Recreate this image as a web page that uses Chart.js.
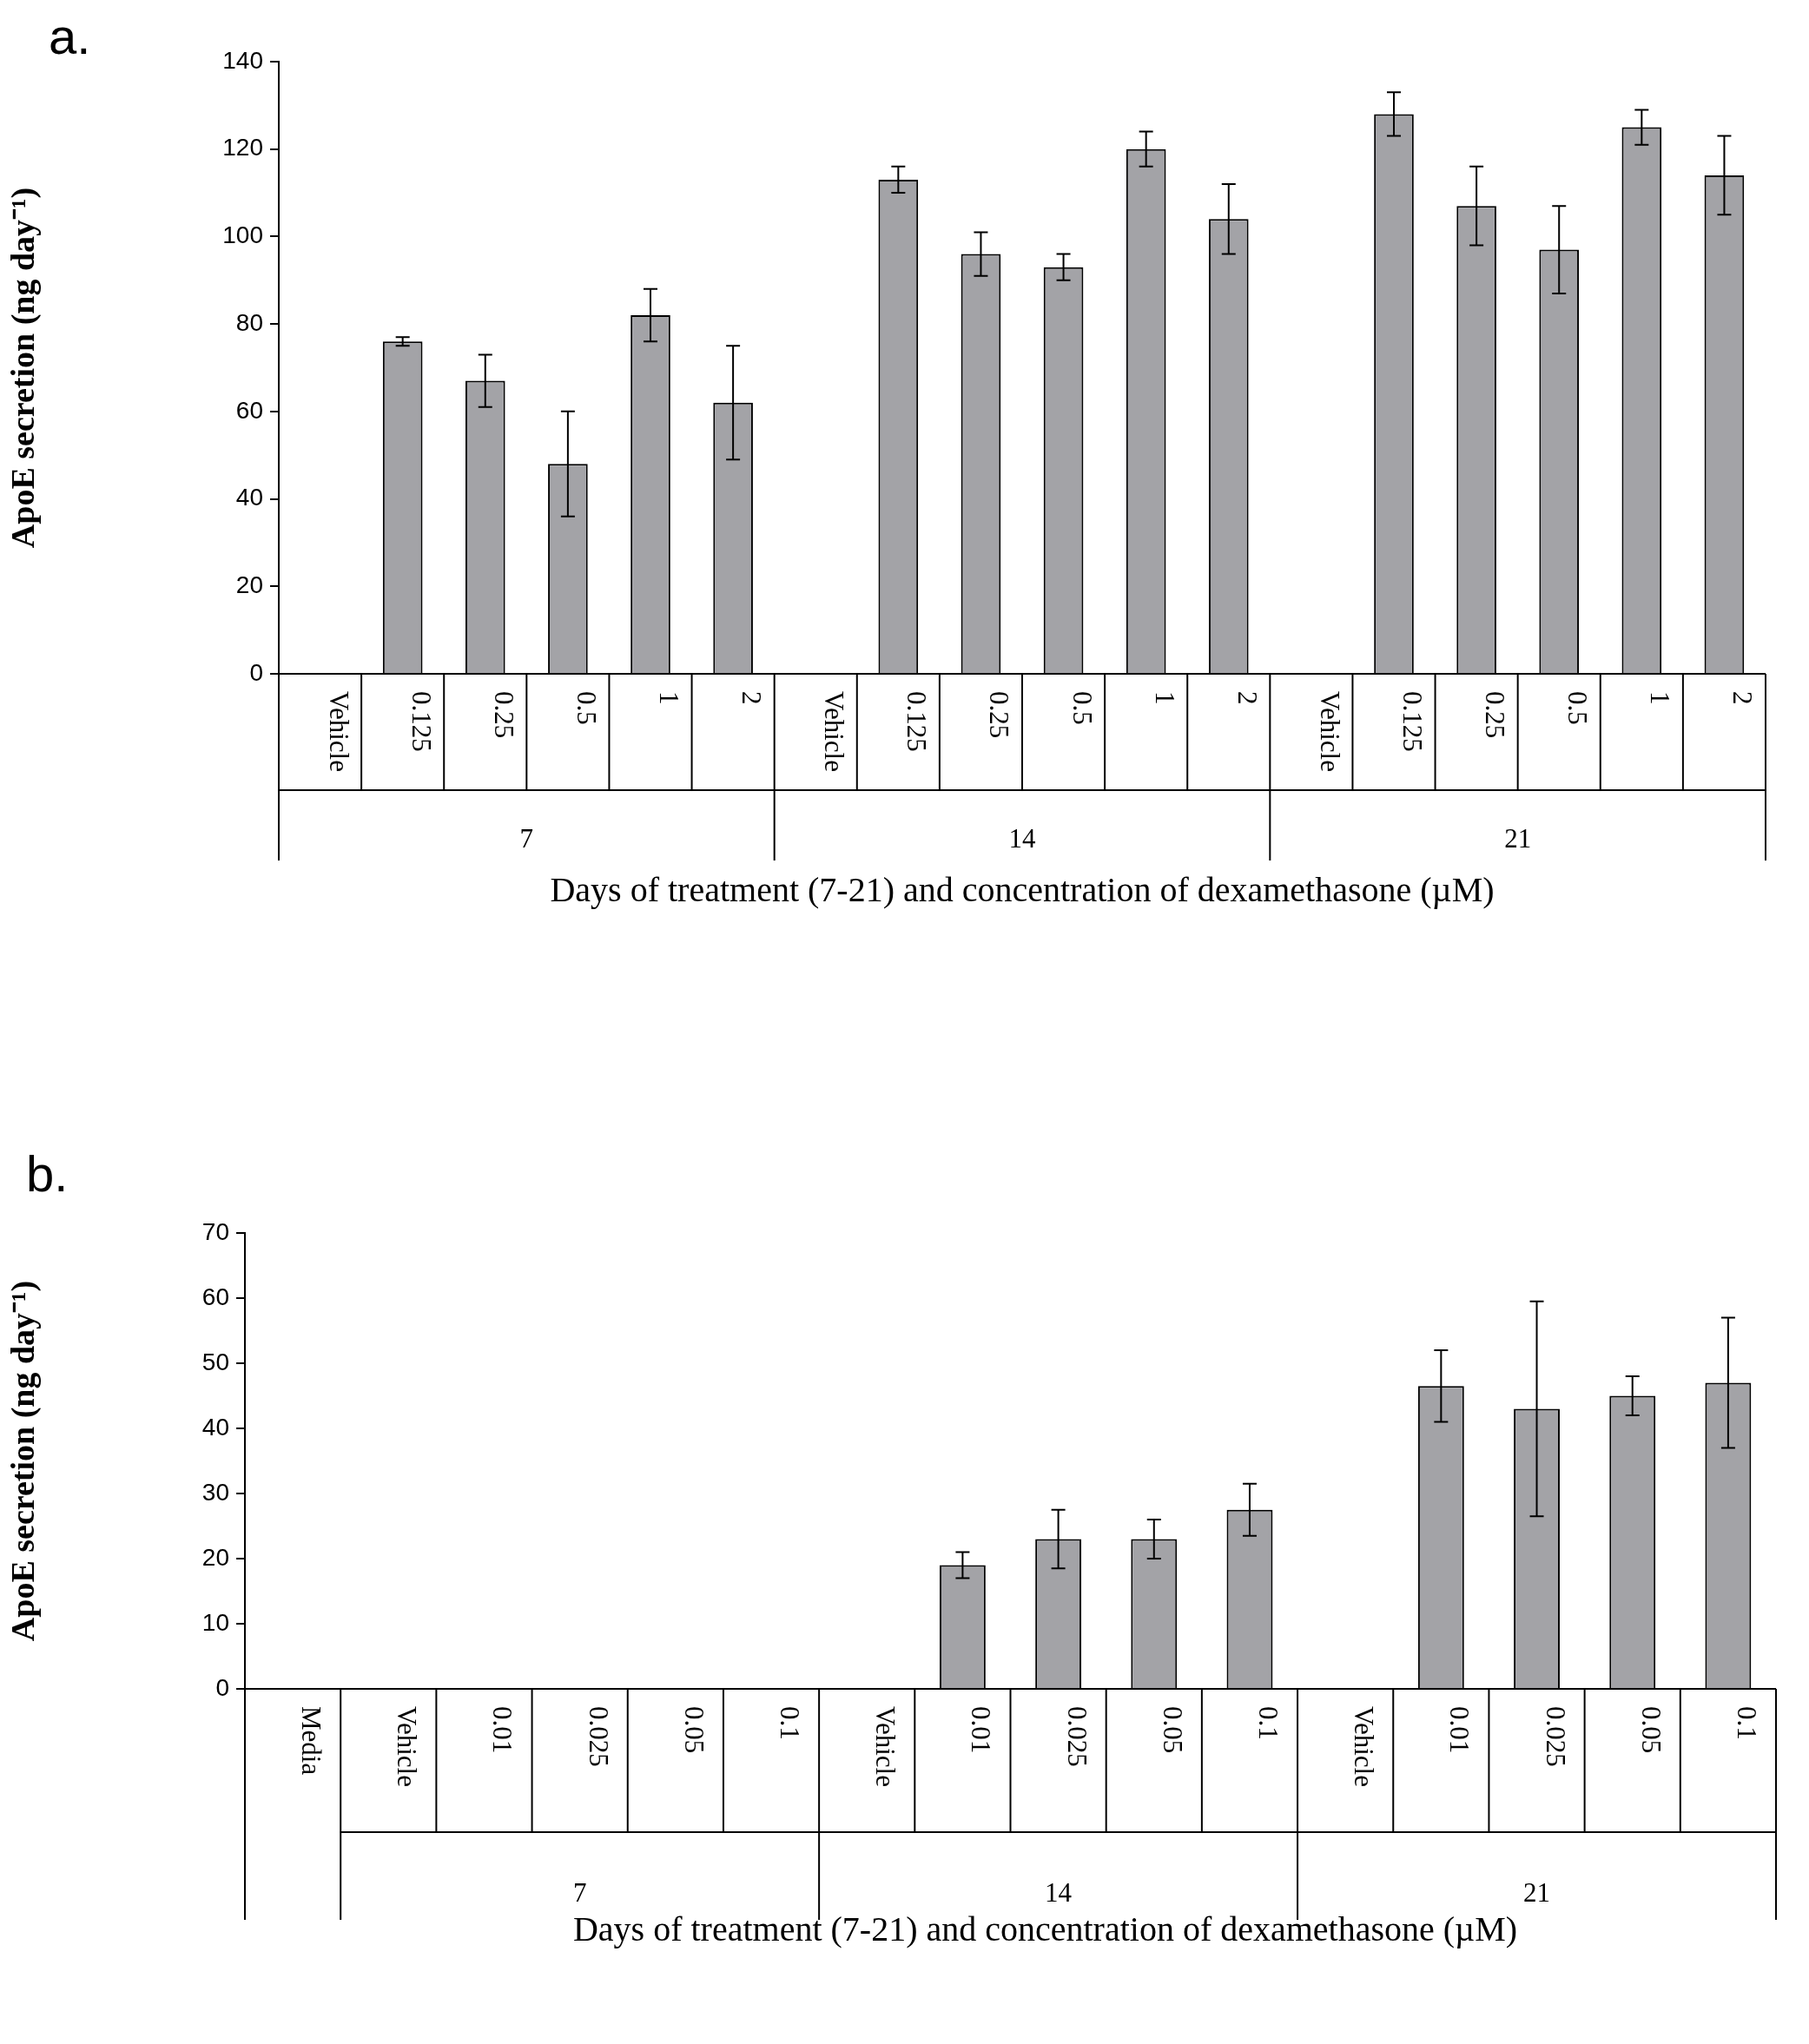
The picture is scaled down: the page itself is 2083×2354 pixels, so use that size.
<!DOCTYPE html>
<html><head><meta charset="utf-8">
<script src="https://cdn.jsdelivr.net/npm/chart.js@4.4.1/dist/chart.umd.min.js"></script>
<style>body{margin:0;background:#fff;width:2083px;height:2354px;position:relative;overflow:hidden}
canvas{position:absolute;left:0}
.lab{position:absolute;font-family:"Liberation Sans",Arial;font-size:58px}</style>
</head><body>
<div class="lab" style="left:56px;top:8px">a.</div>
<div class="lab" style="left:30px;top:1318px">b.</div>
<canvas id="chartA" width="2083" height="1100" style="top:0"></canvas>
<canvas id="chartB" width="2083" height="1054" style="top:1300px"></canvas>
<script>
// panel a
const groupsA = ["7", "14", "21"];
const concA = ["Vehicle", "0.125", "0.25", "0.5", "1", "2"];
const valuesA = [0, 76, 67, 48, 82, 62, 0, 113, 96, 93, 120, 104, 0, 128, 107, 97, 125, 114];
const errorsA = [0, 1, 6, 12, 6, 13, 0, 3, 5, 3, 4, 8, 0, 5, 9, 10, 4, 9];
const ticksA = [0, 20, 40, 60, 80, 100, 120, 140];

// panel b
const groupsB = ["7", "14", "21"];
const concB = ["Vehicle", "0.01", "0.025", "0.05", "0.1"];
const valuesB = [0, 0, 0, 0, 0, 0, 0, 19, 23, 23, 27.5, 0, 46.5, 43, 45, 47];
const errorsB = [0, 0, 0, 0, 0, 0, 0, 2, 4.5, 3, 4, 0, 5.5, 16.5, 3, 10];
const ticksB = [0, 10, 20, 30, 40, 50, 60, 70];

const labelsA = [];
groupsA.forEach(() => concA.forEach(c => labelsA.push(c)));
const labelsB = ["Media"];
groupsB.forEach(() => concB.forEach(c => labelsB.push(c)));

const serif = '"Liberation Serif", "Times New Roman", serif';

function tablePlugin(opt) {
    return {
        id: 'table',
        afterDatasetsDraw(chart) {
            const ctx = chart.ctx, x = chart.scales.x, y = chart.scales.y;
            const labels = chart.data.labels;
            const errs = opt.errors;
            const half = (x.getPixelForValue(1) - x.getPixelForValue(0)) / 2;
            ctx.save();
            ctx.strokeStyle = '#000';
            ctx.lineWidth = 2;
            // error bars
            chart.data.datasets[0].data.forEach((v, i) => {
                if (!errs[i]) return;
                const px = x.getPixelForValue(i);
                const t = y.getPixelForValue(v + errs[i]), b = y.getPixelForValue(v - errs[i]);
                ctx.beginPath();
                ctx.moveTo(px, t); ctx.lineTo(px, b);
                ctx.moveTo(px - 8, t); ctx.lineTo(px + 8, t);
                ctx.moveTo(px - 8, b); ctx.lineTo(px + 8, b);
                ctx.stroke();
            });
            const base = y.bottom;
            ctx.beginPath();
            ctx.moveTo(x.left, base); ctx.lineTo(x.right, base);
            const rowY = base + opt.row, endY = base + opt.end;
            const first = opt.single ? 1 : 0;
            ctx.moveTo(x.getPixelForValue(first) - half, rowY);
            ctx.lineTo(x.right, rowY);
            ctx.stroke();
            ctx.fillStyle = '#000';
            ctx.font = '31px ' + serif;
            labels.forEach((l, i) => {
                const px = x.getPixelForValue(i);
                const edge = px - half;
                const isGroupStart = (i - first) % opt.size === 0 || i === 0;
                ctx.beginPath();
                ctx.moveTo(edge, base);
                ctx.lineTo(edge, isGroupStart ? endY : rowY);
                ctx.stroke();
                ctx.save();
                ctx.translate(px + 11, base + 20);
                ctx.rotate(Math.PI / 2);
                ctx.textAlign = 'left';
                ctx.fillText(l, 0, 0);
                ctx.restore();
            });
            ctx.beginPath();
            ctx.moveTo(x.right, base); ctx.lineTo(x.right, endY);
            ctx.stroke();
            ctx.font = '31px ' + serif;
            ctx.textAlign = 'center';
            opt.groups.forEach((g, k) => {
                const a = x.getPixelForValue(first + k * opt.size) - half;
                const b = x.getPixelForValue(first + (k + 1) * opt.size - 1) + half;
                ctx.fillText(g, (a + b) / 2, base + opt.glab);
            });
            ctx.font = '40px ' + serif;
            ctx.fillText('Days of treatment (7-21) and concentration of dexamethasone (\u00b5M)',
                (x.left + x.right) / 2 + opt.tshift, base + opt.title);
            ctx.restore();
        }
    };
}

function makeChart(id, labels, values, errors, ticks, max, yw, pad, opt) {
    new Chart(document.getElementById(id), {
        type: 'bar',
        data: {
            labels: labels,
            datasets: [{
                data: values,
                backgroundColor: '#a3a3a7',
                borderColor: '#000',
                borderWidth: 2,
                barPercentage: 0.48,
                categoryPercentage: 1
            }]
        },
        options: {
            responsive: false,
            animation: false,
            devicePixelRatio: 1,
            layout: { padding: pad },
            plugins: { legend: { display: false }, tooltip: { enabled: false } },
            scales: {
                x: { display: false },
                y: {
                    min: 0, max: max,
                    afterFit: s => { s.width = yw; },
                    afterBuildTicks: s => { s.ticks = ticks.map(v => ({ value: v })); },
                    border: { color: '#000', width: 2 },
                    grid: { drawOnChartArea: false, color: '#000', tickLength: 10, lineWidth: 2 },
                    ticks: { color: '#000', font: { family: '"Liberation Sans", Arial', size: 28 }, padding: 8 },
                    title: {
                        display: true, text: 'ApoE secretion (ng day\u207b\u00b9)', color: '#000',
                        font: { family: serif, size: 38, weight: 'bold' }, padding: 6
                    }
                }
            }
        },
        plugins: [tablePlugin(Object.assign({ errors: errors }, opt))]
    });
}

makeChart('chartA', labelsA, valuesA, errorsA, ticksA, 140, 321,
    { top: 71, right: 50, bottom: 324, left: 0 },
    { groups: groupsA, size: 6, single: false, row: 134, end: 215, glab: 200, title: 262, tshift: 0 });

makeChart('chartB', labelsB, valuesB, errorsB, ticksB, 70, 282,
    { top: 120, right: 38, bottom: 409, left: 0 },
    { groups: groupsB, size: 5, single: true, row: 165, end: 266, glab: 245, title: 290, tshift: 40 });
</script>
</body></html>
